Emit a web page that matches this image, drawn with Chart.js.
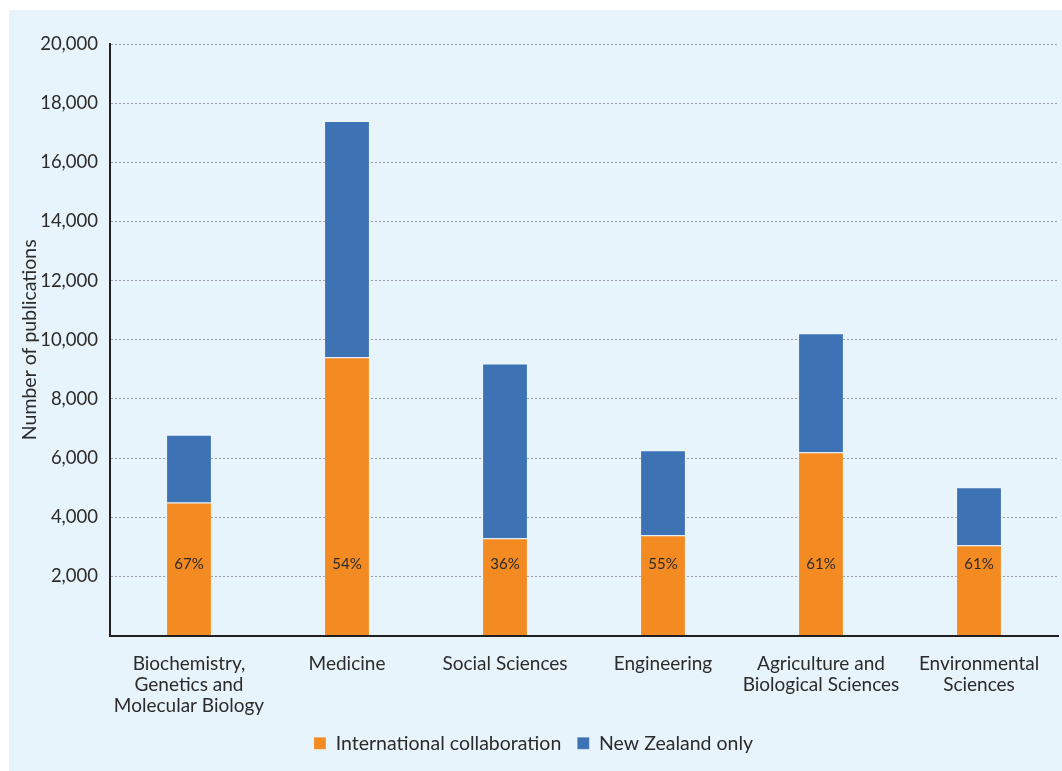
<!DOCTYPE html>
<html>
<head>
<meta charset="utf-8">
<script src="https://cdn.jsdelivr.net/npm/chart.js@4/dist/chart.umd.min.js"></script>
<style>
  body { margin: 0; background: #ffffff; }
  #panel { position: absolute; left: 9px; top: 10px; width: 1053px; height: 761px; background: #e8f4fb; }
</style>
</head>
<body>
<div id="panel"><canvas id="barChart" width="1053" height="761"></canvas></div>
<script>
// values
var categories = [
    ["Biochemistry,", "Genetics and", "Molecular Biology"],
    "Medicine",
    "Social Sciences",
    "Engineering",
    ["Agriculture and", "Biological Sciences"],
    ["Environmental", "Sciences"]
];
var international = [4500, 9410, 3290, 3390, 6200, 3050];
var nzOnly = [2290, 7990, 5910, 2870, 4020, 1960];
var shareLabels = ["67%", "54%", "36%", "55%", "61%", "61%"];
var yTicks = [0, 2000, 4000, 6000, 8000, 10000, 12000, 14000, 16000, 18000, 20000];
var shareLabelValue = 2400;

var FONT = "Lato, 'Open Sans', sans-serif";
var TEXT = "#2b2b2b";

var shareText = {
    id: 'shareText',
    afterDatasetsDraw: function (chart) {
        var c = chart.ctx;
        var y = chart.scales.y.getPixelForValue(shareLabelValue);
        c.save();
        c.font = "15px " + FONT;
        c.fillStyle = TEXT;
        c.textAlign = "center";
        c.textBaseline = "middle";
        shareLabels.forEach(function (t, i) {
            c.fillText(t, chart.scales.x.getPixelForValue(i), y);
        });
        c.restore();
    }
};

var ctx = document.getElementById("barChart");
var myBarChart = new Chart(ctx, {
    type: 'bar',
    data: {
        labels: categories,
        datasets: [
            {
                label: 'International collaboration',
                data: international,
                backgroundColor: "#f48a22",
                borderColor: "rgba(255,255,255,0.2)",
                borderWidth: 1,
                categoryPercentage: 1,
                barPercentage: 0.29
            },
            {
                label: 'New Zealand only',
                data: nzOnly,
                backgroundColor: "#3d72b4",
                borderColor: "rgba(255,255,255,0.2)",
                borderWidth: 1,
                categoryPercentage: 1,
                barPercentage: 0.29
            }
        ]
    },
    options: {
        responsive: false,
        animation: false,
        layout: { padding: { top: 34, right: 4, bottom: 8, left: 0 } },
        plugins: {
            legend: {
                position: 'bottom',
                labels: {
                    font: { family: FONT, size: 19.5 },
                    color: TEXT,
                    boxWidth: 12,
                    boxHeight: 12,
                    padding: 16
                }
            },
            tooltip: { enabled: false }
        },
        scales: {
            x: {
                stacked: true,
                afterFit: function (scale) { scale.height = 82; },
                grid: { display: false },
                border: { color: "#231f20", width: 2 },
                ticks: {
                    font: { family: FONT, size: 19, lineHeight: 1.1 },
                    color: TEXT,
                    padding: 10,
                    maxRotation: 0,
                    autoSkip: false
                }
            },
            y: {
                stacked: true,
                min: 0,
                max: 20000,
                afterFit: function (scale) { scale.width = 101; },
                afterBuildTicks: function (scale) {
                    scale.ticks = yTicks.map(function (v) { return { value: v }; });
                },
                border: { color: "#231f20", width: 2, dash: [2, 2] },
                grid: {
                    color: "#9a9a9a",
                    lineWidth: 1,
                    drawTicks: false
                },
                ticks: {
                    font: { family: FONT, size: 18.5 },
                    color: TEXT,
                    padding: 12,
                    callback: function (v) { return v === 0 ? '' : v.toLocaleString('en-US'); }
                },
                title: {
                    display: true,
                    text: "Number of publications",
                    font: { family: FONT, size: 19.5 },
                    color: TEXT,
                    padding: { top: 9, bottom: 0 }
                }
            }
        }
    },
    plugins: [shareText]
});
</script>
</body>
</html>
